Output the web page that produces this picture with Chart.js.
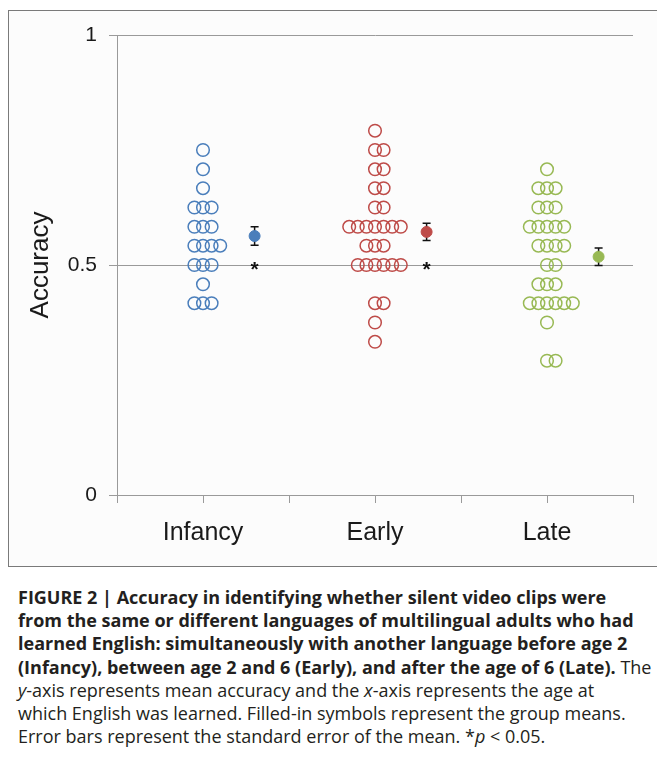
<!DOCTYPE html>
<html><head><meta charset="utf-8">
<script src="https://cdn.jsdelivr.net/npm/chart.js@4"></script>
<style>
html,body{margin:0;padding:0;background:#fff;}
body{width:657px;height:766px;overflow:hidden;position:relative;font-family:'Open Sans',sans-serif;}
#frame{position:absolute;left:8px;top:10px;width:670px;height:555px;border:1px solid #7a7a7a;background:#fcfcfc;}
#wrap{position:absolute;left:0;top:0;width:657px;height:565px;}
#cap{position:absolute;left:18px;top:586px;font-size:18px;line-height:23.2px;color:#231f20;white-space:nowrap;}
#cap div{height:23.2px;}
</style></head><body>
<div id="frame"></div>
<div id="wrap"><canvas id="c"></canvas></div>
<div id="cap">
<div><b>FIGURE 2 | Accuracy in identifying whether silent video clips were</b></div>
<div><b>from the same or different languages of multilingual adults who had</b></div>
<div><b>learned English: simultaneously with another language before age 2</b></div>
<div><b>(Infancy), between age 2 and 6 (Early), and after the age of 6 (Late).</b> The</div>
<div><i>y</i>-axis represents mean accuracy and the <i>x</i>-axis represents the age at</div>
<div>which English was learned. Filled-in symbols represent the group means.</div>
<div>Error bars represent the standard error of the mean. *<i>p</i> &lt; 0.05.</div>
</div>
<script>
// ---- data ----
const categories = ['Infancy', 'Early', 'Late'];
const infancyScores = [0.750, 0.708, 0.667, 0.625, 0.625, 0.625, 0.583, 0.583, 0.583,
  0.542, 0.542, 0.542, 0.542, 0.500, 0.500, 0.500, 0.458, 0.417, 0.417, 0.417];
const earlyScores = [0.792, 0.750, 0.750, 0.708, 0.708, 0.667, 0.667, 0.625, 0.625,
  0.583, 0.583, 0.583, 0.583, 0.583, 0.583, 0.583, 0.542, 0.542, 0.542,
  0.500, 0.500, 0.500, 0.500, 0.500, 0.500, 0.417, 0.417, 0.375, 0.333];
const lateScores = [0.708, 0.667, 0.667, 0.667, 0.625, 0.625, 0.625,
  0.583, 0.583, 0.583, 0.583, 0.583, 0.542, 0.542, 0.542, 0.542, 0.500, 0.500,
  0.458, 0.458, 0.458, 0.417, 0.417, 0.417, 0.417, 0.417, 0.417, 0.375, 0.292, 0.292];
const groupMeans = [0.563, 0.572, 0.518];
const groupSEM = [0.020, 0.019, 0.019];
const significant = [true, true, false];
const yTicks = [0, 0.5, 1];
const yTickLabels = ['0', '0.5', '1'];

// ---- styling ----
const colors = ['#4a7ebb', '#be4b48', '#98b954'];
const allScores = [infancyScores, earlyScores, lateScores];
const step = 0.1;
const meanOffset = 0.6;
const axisFont = '"Liberation Sans", Arial, sans-serif';

function spread(scores, center) {
  const rows = new Map();
  scores.forEach(v => rows.set(v, (rows.get(v) || 0) + 1));
  const pts = [];
  rows.forEach((n, v) => {
    const start = -Math.floor((n - 1) / 2);
    for (let k = 0; k < n; k++) pts.push({x: center + (start + k) * step, y: v});
  });
  return pts;
}

const datasets = [];
categories.forEach((c, i) => {
  const cx = 2 * i + 1;
  datasets.push({
    label: c, data: spread(allScores[i], cx),
    pointStyle: 'circle', pointRadius: 6.3, pointBorderWidth: 1.5,
    borderColor: colors[i], backgroundColor: 'rgba(0,0,0,0)', showLine: false
  });
});
categories.forEach((c, i) => {
  datasets.push({
    label: c + ' mean', data: [{x: 2 * i + 1 + meanOffset, y: groupMeans[i]}],
    pointStyle: 'circle', pointRadius: 5.5, pointBorderWidth: 1,
    borderColor: colors[i], backgroundColor: colors[i], showLine: false
  });
});

const errPlugin = {
  id: 'err',
  beforeDatasetsDraw(chart) {
    const ctx = chart.ctx, xs = chart.scales.x, ys = chart.scales.y;
    ctx.save();
    ctx.strokeStyle = '#111'; ctx.lineWidth = 1.5;
    categories.forEach((c, i) => {
      const x = xs.getPixelForValue(2 * i + 1 + meanOffset);
      const y1 = ys.getPixelForValue(groupMeans[i] + groupSEM[i]);
      const y2 = ys.getPixelForValue(groupMeans[i] - groupSEM[i]);
      ctx.beginPath();
      ctx.moveTo(x, y1); ctx.lineTo(x, y2);
      ctx.moveTo(x - 4, y1); ctx.lineTo(x + 4, y1);
      ctx.moveTo(x - 4, y2); ctx.lineTo(x + 4, y2);
      ctx.stroke();
    });
    ctx.restore();
  },
  afterDatasetsDraw(chart) {
    const ctx = chart.ctx, xs = chart.scales.x, ys = chart.scales.y;
    ctx.save();
    ctx.fillStyle = '#111';
    ctx.font = 'bold 21px ' + axisFont;
    ctx.textAlign = 'center'; ctx.textBaseline = 'alphabetic';
    categories.forEach((c, i) => {
      if (!significant[i]) return;
      const x = xs.getPixelForValue(2 * i + 1 + meanOffset);
      const y = ys.getPixelForValue(0.5);
      ctx.fillText('*', x, y + 11);
    });
    ctx.restore();
  }
};

new Chart(document.getElementById('c'), {
  type: 'scatter',
  data: {datasets},
  plugins: [errPlugin],
  options: {
    responsive: true, maintainAspectRatio: false, animation: false,
    layout: {padding: {top: 35, right: 24, left: 0, bottom: 0}},
    plugins: {legend: {display: false}, tooltip: {enabled: false}},
    scales: {
      x: {
        type: 'linear', min: 0, max: 6,
        afterBuildTicks: s => { s.ticks = [0,1,2,3,4,5,6].map(v => ({value: v})); },
        ticks: {
          autoSkip: false, maxRotation: 0, padding: 15, color: '#1a1a1a',
          font: {family: axisFont, size: 25},
          callback: v => (v % 2 === 1 ? categories[(v - 1) / 2] : '')
        },
        grid: {drawOnChartArea: false, drawTicks: true, tickLength: 8, color: '#9a9a9a', lineWidth: 1},
        border: {display: true, color: '#9a9a9a', width: 1},
        afterFit: s => { s.height = 70; }
      },
      y: {
        min: 0, max: 1,
        afterBuildTicks: s => { s.ticks = yTicks.map(v => ({value: v})); },
        ticks: {
          padding: 12, color: '#1a1a1a',
          font: {family: axisFont, size: 21},
          callback: v => yTickLabels[yTicks.indexOf(v)]
        },
        grid: {color: '#9a9a9a', lineWidth: 1, tickLength: 8},
        border: {display: true, color: '#9a9a9a', width: 1},
        title: {
          display: true, text: 'Accuracy', color: '#1a1a1a',
          font: {family: axisFont, size: 26},
          padding: {top: 25, bottom: 0}
        },
        afterFit: s => { s.width = 117; }
      }
    }
  }
});
</script>
</body></html>
